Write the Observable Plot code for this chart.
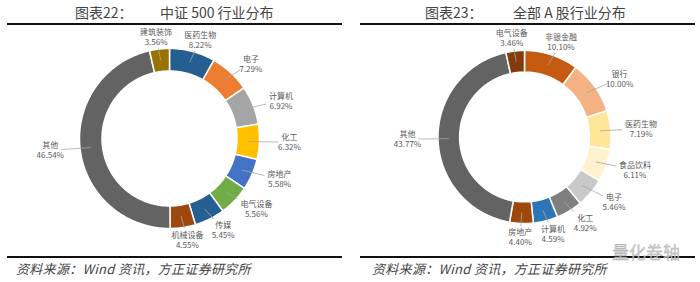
<!DOCTYPE html>
<html>
<head>
<meta charset="utf-8">
<script src="https://cdn.jsdelivr.net/npm/d3@7"></script>
<script src="https://cdn.jsdelivr.net/npm/@observablehq/plot@0.6"></script>
<style>
  html, body { margin: 0; padding: 0; background: #fff; }
  #page { position: relative; width: 700px; height: 282px; overflow: hidden; background: #fff;
          font-family: "Noto Sans CJK SC", "Noto Sans", sans-serif; }
  .abs { position: absolute; white-space: nowrap; }
  .title { font-size: 14px; line-height: 14px; color: #444; top: 5px; }
  .rule { height: 2px; background: #111; }
  .source { font-size: 13px; line-height: 13px; color: #444; font-style: italic; top: 262px; letter-spacing: 0.3px; }
  .chart { top: 25px; }
  .wm { font-size: 17px; line-height: 17px; color: #c4c4c4; top: 243px; left: 612px; letter-spacing: 0px;
        -webkit-text-stroke: 0.3px #aaa; opacity: 0.9; }
</style>
</head>
<body>
<div id="page"></div>
<script>
// ---------------- data ----------------
const leftTitle = ["图表22：", "中证 500 行业分布"];
const leftNames = ["医药生物", "电子", "计算机", "化工", "房地产", "电气设备", "传媒", "机械设备", "其他", "建筑装饰"];
const leftValues = [8.22, 7.29, 6.92, 6.32, 5.58, 5.56, 5.45, 4.55, 46.54, 3.56];

const rightTitle = ["图表23：", "全部 A 股行业分布"];
const rightNames = ["非银金融", "银行", "医药生物", "食品饮料", "电子", "化工", "计算机", "房地产", "其他", "电气设备"];
const rightValues = [10.10, 10.00, 7.19, 6.11, 5.46, 4.92, 4.59, 4.40, 43.77, 3.46];

const sourceText = "资料来源：Wind 资讯，方正证券研究所";
const watermark = "量化卷轴";

// ---------------- styling ----------------
const leftColors = ["#255E91", "#ED7D31", "#A5A5A5", "#FFC000", "#4472C4", "#70AD47", "#255E91", "#9E480E", "#636363", "#997300"];
const rightColors = ["#C55A11", "#F4B183", "#FFE699", "#FFF2CC", "#C9C9C9", "#7F7F7F", "#2E75B6", "#9E480E", "#636363", "#843C0C"];

function donut(names, values, colors, g) {
  const {cx, cy, R, rx, ry} = g;
  const r = R * 0.75;
  const total = d3.sum(values);
  const pts = [], slices = [];
  let acc = 0;
  names.forEach((name, i) => {
    const a0 = acc / total * 2 * Math.PI;
    acc += values[i];
    const a1 = acc / total * 2 * Math.PI;
    const n = Math.max(2, Math.ceil((a1 - a0) / (Math.PI / 180)));
    for (let k = 0; k <= n; k++) {
      const a = a0 + (a1 - a0) * k / n;
      pts.push({name, x: cx + R * Math.sin(a), y: cy - R * Math.cos(a)});
    }
    for (let k = n; k >= 0; k--) {
      const a = a0 + (a1 - a0) * k / n;
      pts.push({name, x: cx + r * Math.sin(a), y: cy - r * Math.cos(a)});
    }
    const am = (a0 + a1) / 2;
    const lx = cx + rx * Math.sin(am), ly = cy - ry * Math.cos(am);
    const sx = cx + (R + r) / 2 * Math.sin(am), sy = cy - (R + r) / 2 * Math.cos(am);
    const vx = lx - sx, vy = ly - sy;
    const hw = name.length * 4 + 3, hh = 11;
    const t = Math.min(Math.abs(vx) > 1e-6 ? hw / Math.abs(vx) : Infinity, Math.abs(vy) > 1e-6 ? hh / Math.abs(vy) : Infinity);
    slices.push({name, value: values[i], lx, ly, sx, sy, ex: lx - vx * t, ey: ly - vy * t, lead: t < 0.85});
  });
  return Plot.plot({
    width: 350, height: 230, margin: 0,
    x: {domain: [0, 350], axis: null},
    y: {domain: [0, 230], reverse: true, axis: null},
    color: {domain: names, range: colors},
    style: {background: "transparent", overflow: "visible"},
    marks: [
      Plot.line(pts, {x: "x", y: "y", z: "name", fill: "name", stroke: "white", strokeWidth: 1.5, curve: "linear-closed"}),
      Plot.link(slices.filter(d => d.lead), {x1: "sx", y1: "sy", x2: "ex", y2: "ey", stroke: "#a6a6a6", strokeWidth: 0.8}),
      Plot.text(slices, {x: "lx", y: "ly", text: d => d.name + "\n" + d.value.toFixed(2) + "%",
        fontSize: 8, fill: "#595959", lineHeight: 1.25, fontFamily: "Noto Sans CJK SC"})
    ]
  });
}

const page = document.getElementById("page");
function add(cls, style, text) {
  const el = document.createElement("div");
  el.className = "abs " + cls;
  Object.assign(el.style, style);
  if (text != null) el.textContent = text;
  page.appendChild(el);
  return el;
}

function panel(offset, title, names, values, colors, geom, titleX) {
  const c = add("chart", {left: offset + "px"});
  c.appendChild(donut(names, values, colors, geom));
  add("title", {left: (offset + titleX[0]) + "px"}, title[0]);
  add("title", {left: (offset + titleX[1]) + "px"}, title[1]);
  add("rule", {left: (offset + geom.ruleL) + "px", width: (geom.ruleR - geom.ruleL) + "px", top: "23px"});
  add("rule", {left: (offset + geom.ruleL) + "px", width: (geom.ruleR - geom.ruleL) + "px", top: "256px"});
  add("source", {left: (offset + geom.srcX) + "px"}, sourceText);
}

panel(0, leftTitle, leftNames, leftValues, leftColors,
  {cx: 169, cy: 113, R: 90, rx: 120, ry: 102, ruleL: 7, ruleR: 342, srcX: 16}, [75, 160]);
panel(350, rightTitle, rightNames, rightValues, rightColors,
  {cx: 174, cy: 111.5, R: 86.5, rx: 117, ry: 100, ruleL: 10, ruleR: 345, srcX: 22}, [75, 163]);
add("wm", {}, watermark);
</script>
</body>
</html>
